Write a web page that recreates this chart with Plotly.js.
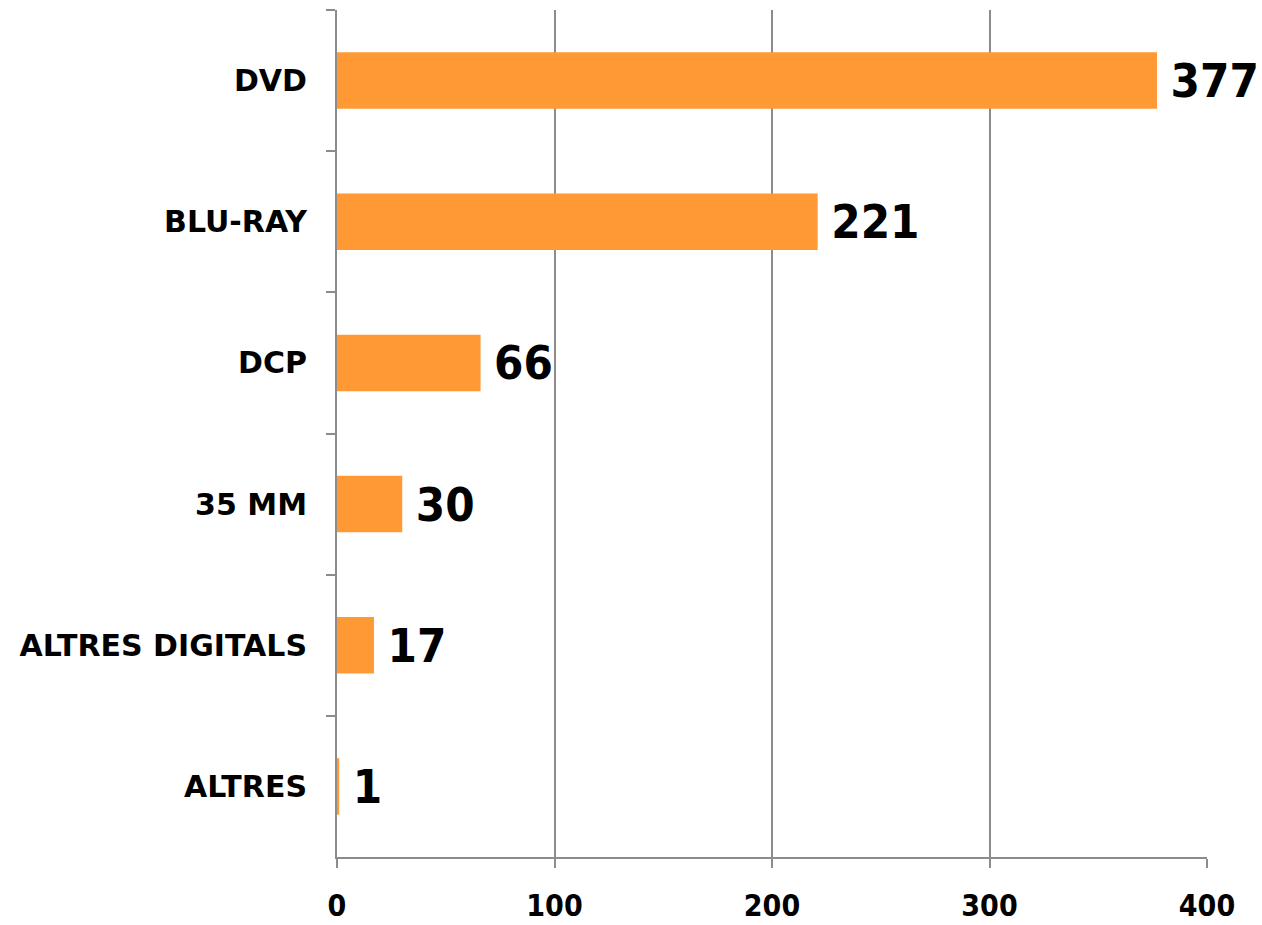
<!DOCTYPE html>
<html>
<head>
<meta charset="utf-8">
<script src="https://cdn.plot.ly/plotly-3.0.1.min.js"></script>
<style>html,body{margin:0;padding:0;background:#fff;}#chart{width:1262px;height:925px;}</style>
</head>
<body>
<div id="chart"></div>
<script>
const categories = ['DVD', 'BLU-RAY', 'DCP', '35 MM', 'ALTRES DIGITALS', 'ALTRES'];
const values = [377, 221, 66, 30, 17, 1];
const xTickValues = [0, 100, 200, 300, 400];

const condFont = '"DejaVu Sans Condensed", "DejaVu Sans", sans-serif';
const normFont = '"DejaVu Sans", sans-serif';
const gray = '#8c8c8c';

const trace = {
  type: 'bar',
  orientation: 'h',
  y: categories,
  x: values,
  text: values.map(v => '\u2005' + v),
  textposition: 'outside',
  cliponaxis: false,
  textfont: {family: condFont, size: 47, color: '#000', weight: 'bold'},
  marker: {color: '#FF9933'},
  hoverinfo: 'x+y'
};

const layout = {
  width: 1262,
  height: 925,
  margin: {l: 337, r: 55, t: 10, b: 68},
  paper_bgcolor: '#fff',
  plot_bgcolor: '#fff',
  bargap: 0.6,
  showlegend: false,
  xaxis: {
    range: [0, 400],
    tickvals: xTickValues,
    ticktext: xTickValues.map(String),
    showgrid: true,
    gridcolor: gray,
    gridwidth: 2,
    zeroline: false,
    showline: true,
    linecolor: gray,
    linewidth: 2,
    ticks: 'outside',
    ticklen: 9,
    tickwidth: 2,
    tickcolor: gray,
    ticklabelstandoff: 12,
    tickfont: {family: condFont, size: 30, color: '#000', weight: 'bold'},
    fixedrange: true
  },
  yaxis: {
    type: 'category',
    categoryorder: 'array',
    categoryarray: categories,
    autorange: 'reversed',
    showgrid: false,
    zeroline: false,
    showline: true,
    linecolor: gray,
    linewidth: 2,
    ticks: 'outside',
    tickson: 'boundaries',
    ticklen: 9,
    tickwidth: 2,
    tickcolor: gray,
    ticklabelstandoff: 22,
    tickfont: {family: normFont, size: 30, color: '#000', weight: 'bold'},
    fixedrange: true
  }
};

Plotly.newPlot('chart', [trace], layout, {displayModeBar: false, staticPlot: true});
</script>
</body>
</html>
